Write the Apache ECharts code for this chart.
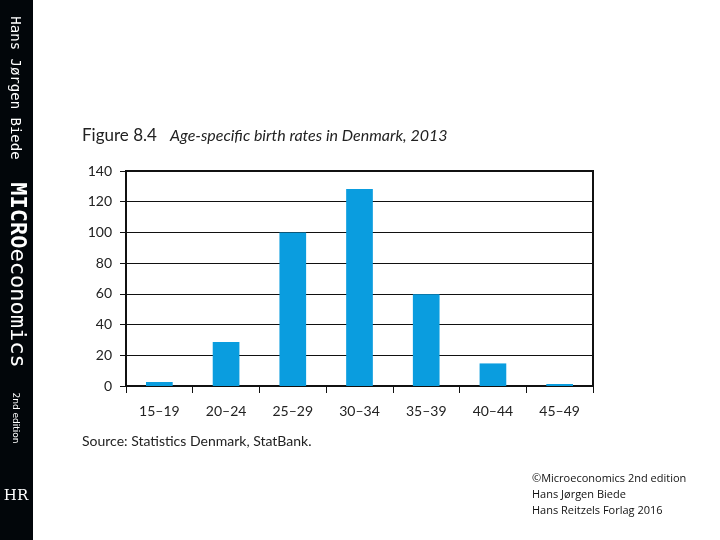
<!DOCTYPE html>
<html>
<head>
<meta charset="utf-8">
<script src="https://cdn.jsdelivr.net/npm/echarts@6/dist/echarts.min.js"></script>
<style>
html,body{margin:0;padding:0;background:#fff;}
#c{width:720px;height:540px;}
</style>
</head>
<body>
<div id="c"></div>
<script>
var categories = ['15–19', '20–24', '25–29', '30–34', '35–39', '40–44', '45–49'];
var birthRates = [2.6, 28.6, 100, 128.3, 59.8, 14.7, 1.3];
var yTicks = [0, 20, 40, 60, 80, 100, 120, 140];

var chart = echarts.init(document.getElementById('c'), null, {renderer: 'canvas'});
var font = 'Lato, "Open Sans", sans-serif';
var option = {
  backgroundColor: '#ffffff',
  animation: false,
  title: {
    left: 82,
    top: 127,
    padding: 0,
    text: '{a|Figure 8.4}{b|Age-specific birth rates in Denmark, 2013}',
    textStyle: {
      fontWeight: 'normal',
      rich: {
        a: {fontFamily: font, fontSize: 17, fontWeight: 'normal', color: '#222', width: 88},
        b: {fontFamily: font, fontSize: 16, fontWeight: 'normal', color: '#222', fontStyle: 'italic'}
      }
    }
  },
  grid: {
    left: 126, right: 127, top: 171, bottom: 154,
    show: true, borderWidth: 2, borderColor: '#111', backgroundColor: 'transparent'
  },
  xAxis: {
    type: 'category',
    data: categories,
    boundaryGap: true,
    axisLine: {lineStyle: {color: '#111', width: 2}},
    axisTick: {show: true, length: 7, lineStyle: {color: '#111', width: 1}},
    axisLabel: {fontFamily: font, fontSize: 14, color: '#222', margin: 18}
  },
  yAxis: {
    type: 'value',
    min: yTicks[0],
    max: yTicks[yTicks.length - 1],
    interval: 20,
    axisLine: {show: true, lineStyle: {color: '#111', width: 2}},
    axisTick: {show: true, length: 6, lineStyle: {color: '#111', width: 1}},
    axisLabel: {fontFamily: font, fontSize: 14, color: '#222', margin: 14},
    splitLine: {show: true, lineStyle: {color: '#111', width: 1}}
  },
  series: [{
    type: 'bar',
    data: birthRates,
    barWidth: '40%',
    itemStyle: {color: '#0a9ddf'}
  }],
  graphic: [
    {type: 'rect', left: 0, top: 0, shape: {width: 33, height: 540}, style: {fill: '#02060a'}, z: 10},
    {type: 'text', x: 15, y: 88, rotation: -Math.PI / 2, z: 11,
     style: {text: 'Hans Jørgen Biede', fill: '#fff', font: '14px "DejaVu Sans Mono", monospace', align: 'center', verticalAlign: 'middle'}},
    {type: 'text', x: 17, y: 275, rotation: -Math.PI / 2, z: 11,
     style: {text: '{m|MICRO}{e|economics}', fill: '#fff', align: 'center', verticalAlign: 'middle',
       rich: {
         m: {fill: '#fff', font: 'bold 22px "DejaVu Sans Mono", monospace'},
         e: {fill: '#fff', font: '22px "DejaVu Sans Mono", monospace'}
       }}},
    {type: 'text', x: 15, y: 418, rotation: -Math.PI / 2, z: 11,
     style: {text: '2nd edition', fill: '#fff', font: '9px "DejaVu Sans", sans-serif', align: 'center', verticalAlign: 'middle'}},
    {type: 'text', x: 16, y: 496, z: 11,
     style: {text: 'HR', fill: '#fff', font: '15px "DejaVu Serif", serif', align: 'center', verticalAlign: 'middle'}},
    {type: 'text', left: 82, top: 434, z: 11,
     style: {text: 'Source: Statistics Denmark, StatBank.', fill: '#222', font: '14px Lato, "Open Sans", sans-serif'}},
    {type: 'text', left: 532, top: 471, z: 11,
     style: {text: '©Microeconomics 2nd edition\nHans Jørgen Biede\nHans Reitzels Forlag 2016', fill: '#111',
       font: '11px "Open Sans", sans-serif', lineHeight: 16}}
  ]
};
chart.setOption(option);
</script>
</body>
</html>
